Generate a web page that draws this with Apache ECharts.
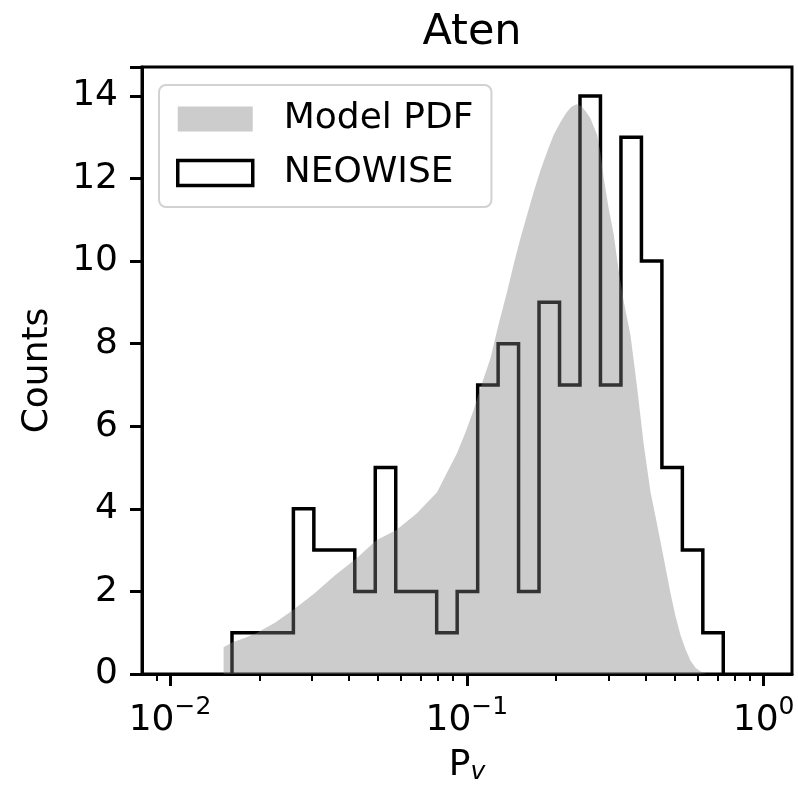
<!DOCTYPE html>
<html>
<head>
<meta charset="utf-8">
<script src="https://cdn.jsdelivr.net/npm/echarts@6/dist/echarts.min.js"></script>
<style>html,body{margin:0;padding:0;background:#fff;}#c{width:798px;height:800px;}</style>
</head>
<body>
<div id="c"></div>
<script>
// NEOWISE histogram (log-spaced bins)
const neoEdges = [0.01618,0.01897,0.02222,0.02605,0.03053,0.03578,0.04194,0.04916,0.05762,0.06754,0.07916,0.0928,0.1088,0.1275,0.1494,0.1751,0.2053,0.2406,0.282,0.3306,0.3875,0.4542,0.5323,0.6239,0.7311];
const neoCounts = [1,1,1,4,3,3,2,5,2,2,1,2,7,8,2,9,7,14,7,13,10,5,3,1];
// Model PDF outline
const pdfX = [0.01516,0.01516,0.01618,0.01794,0.01965,0.02264,0.02598,0.03064,0.03607,0.04246,0.04959,0.0579,0.06762,0.07941,0.08536,0.09275,0.09892,0.1055,0.112,0.1201,0.1278,0.1367,0.1436,0.1516,0.1601,0.1681,0.1771,0.1865,0.1959,0.2069,0.2167,0.2253,0.2342,0.2435,0.2531,0.2611,0.275,0.2821,0.2894,0.3002,0.3128,0.3243,0.3381,0.3561,0.375,0.3948,0.4158,0.438,0.4609,0.4857,0.5049,0.5248,0.5456,0.567,0.5895,0.6129,0.6421];
const pdfY = [0,0.65,0.76,0.88,1.0,1.25,1.55,1.95,2.4,2.8,3.24,3.49,3.88,4.4,4.85,5.35,5.85,6.4,7.0,7.64,8.45,9.26,9.9,10.55,11.15,11.68,12.2,12.65,13.05,13.37,13.6,13.74,13.8,13.75,13.6,13.45,13.05,12.6,12.0,11.3,10.63,9.8,9.01,8.2,6.92,5.54,4.41,3.61,2.8,1.95,1.4,0.94,0.6,0.32,0.15,0.06,0.02];
// axis ticks
const xMajorTicks = [0.01,0.1,1];
const xMinorTicks = [0.008,0.009,0.02,0.03,0.04,0.05,0.06,0.07,0.08,0.09,0.2,0.3,0.4,0.5,0.6,0.7,0.8,0.9];
const supLabels = {'0.01':'−2','0.1':'−1','1':'0'};
const yTicks = [0,2,4,6,8,10,12,14];

const FONT = 'DejaVu Sans';

// build step outline for NEOWISE
const neoLine = [[neoEdges[0],0]];
for (let i=0;i<neoCounts.length;i++){
  neoLine.push([neoEdges[i],neoCounts[i]]);
  neoLine.push([neoEdges[i+1],neoCounts[i]]);
}
neoLine.push([neoEdges[neoEdges.length-1],0]);
const pdfData = pdfX.map((x,i)=>[x,pdfY[i]]);

const chart = echarts.init(document.getElementById('c'), null, {renderer:'canvas'});
chart.setOption({
  animation:false,
  backgroundColor:'#fff',
  title:{text:'Aten', left:467, textAlign:'center', top:6,
    textStyle:{fontFamily:FONT,fontSize:43,fontWeight:'normal',color:'#000'}},
  grid:{left:142,right:6,top:67,bottom:126,show:true,borderColor:'#000',borderWidth:3,backgroundColor:'transparent'},
  legend:{
    orient:'vertical', left:159, top:85,
    padding:[13,18,13,17], itemGap:12,
    itemWidth:75, itemHeight:25,
    backgroundColor:'rgba(255,255,255,0.8)', borderColor:'#d2d2d2', borderWidth:2, borderRadius:7,
    textStyle:{fontFamily:FONT,fontSize:36,color:'#000',padding:[0,0,0,26],lineHeight:42},
    data:[
      {name:'Model PDF', icon:'rect', itemStyle:{color:'#cccccc',borderWidth:0}},
      {name:'NEOWISE', icon:'rect', itemStyle:{color:'#ffffff',borderColor:'#000',borderWidth:3.5}}
    ]
  },
  xAxis:[{
    type:'log', logBase:10, min:0.00805, max:1.246, gridIndex:0,
    name:'{p|P}{v|v}', nameLocation:'middle', nameGap:72,
    nameTextStyle:{rich:{p:{fontFamily:FONT,fontSize:36,color:'#000'},
                         v:{fontFamily:FONT,fontSize:25,fontStyle:'italic',color:'#000',padding:[14,0,0,0]}}},
    axisLine:{show:true,onZero:false,lineStyle:{color:'#000',width:3}},
    axisTick:{show:true,length:12,lineStyle:{color:'#000',width:3},customValues:xMajorTicks},
    axisLabel:{show:true,margin:21,customValues:xMajorTicks,
      formatter:function(v){const k=String(Math.round(v*100)/100);return '{b|10}{s|'+(supLabels[k]||'')+'}';},
      rich:{b:{fontFamily:FONT,fontSize:36,color:'#000',lineHeight:44,verticalAlign:'bottom'},
            s:{fontFamily:FONT,fontSize:25,color:'#000',lineHeight:44,verticalAlign:'top',padding:[0,0,14,0]}}},
    splitLine:{show:false}
  },{
    type:'log', logBase:10, min:0.00805, max:1.246, gridIndex:0, position:'bottom',
    axisLine:{show:false},
    axisTick:{show:true,length:7,lineStyle:{color:'#000',width:2},customValues:xMinorTicks},
    axisLabel:{show:false},
    splitLine:{show:false}
  }],
  yAxis:{
    type:'value', min:0, max:14.7, interval:2,
    name:'Counts', nameLocation:'middle', nameGap:86, nameRotate:90,
    nameTextStyle:{fontFamily:FONT,fontSize:36,color:'#000'},
    axisLine:{show:true,lineStyle:{color:'#000',width:3}},
    axisTick:{show:true,length:12,lineStyle:{color:'#000',width:3}},
    axisLabel:{margin:24,fontFamily:FONT,fontSize:36,color:'#000',
      formatter:function(v){return yTicks.indexOf(v)>=0?String(v):'';}},
    splitLine:{show:false}
  },
  series:[
    {name:'NEOWISE', type:'line', xAxisIndex:0, data:neoLine, showSymbol:false, symbol:'none',
     lineStyle:{color:'#000',width:3.5,join:'miter'}, itemStyle:{color:'#000'}, z:2},
    {name:'Model PDF', type:'line', xAxisIndex:0, data:pdfData, showSymbol:false, symbol:'none',
     lineStyle:{width:0,opacity:0}, itemStyle:{color:'#cccccc'},
     areaStyle:{color:'rgba(128,128,128,0.4)',opacity:1,origin:'start'}, z:3}
  ]
});
</script>
</body>
</html>
